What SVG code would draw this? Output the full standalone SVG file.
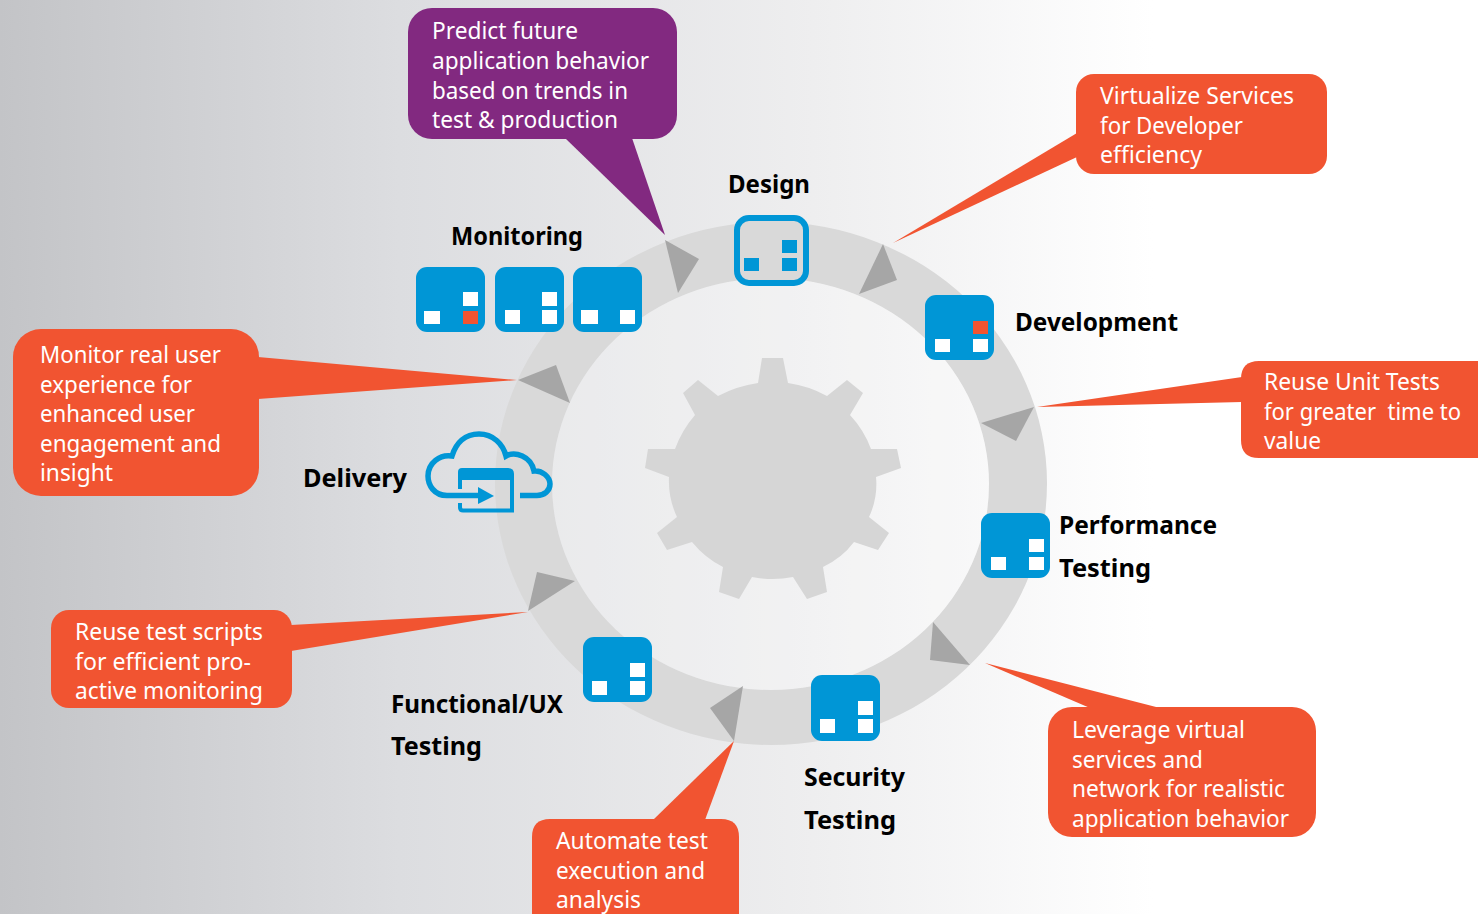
<svg xmlns="http://www.w3.org/2000/svg" width="1478" height="914" viewBox="0 0 1478 914">
<defs>
<linearGradient id="bg" x1="0" y1="0" x2="1" y2="0">
<stop offset="0" stop-color="#c3c4c7"/><stop offset="0.27" stop-color="#dcdde0"/><stop offset="0.55" stop-color="#eeeeef"/><stop offset="0.78" stop-color="#ffffff"/><stop offset="1" stop-color="#ffffff"/>
</linearGradient>
</defs>
<style>
.o{fill:#f15431}.p{fill:#822980}
.b{fill:#0096d6}.w{fill:#fff}.r{fill:#f15431}
.a{fill:#a6a6a6}
text{font-family:"Noto Sans","Liberation Sans",sans-serif}
.t{fill:#fff;font-size:23px}
.l{fill:#000;font-size:25px;font-weight:700}
</style>
<rect width="1478" height="914" fill="url(#bg)"/>
<g id="ring">
<path fill="#d9d9d9" fill-rule="evenodd" d="M495 483.500a276 261.500 0 1 0 552 0a276 261.500 0 1 0-552 0ZM552 484a218.500 206 0 1 0 437 0a218.500 206 0 1 0-437 0Z"/>
<ellipse cx="770.500" cy="484" rx="218.500" ry="206" fill="#fff" fill-opacity="0.25"/>
</g>
<g id="gear">
<path fill="#d6d6d6" d="M758 383L762 358H783L788 383Q809 386 827 396L847 380L863 393L850 415Q864 430 871 449H897L901 468L876 477Q878 498 869 517L889 533L878 550L854 542Q842 558 823 567L827 592L807 599L793 577Q773 581 752 577L739 599L719 592L723 567Q705 558 692 542L667 550L657 533L677 517Q668 498 669 477L645 468L648 449H675Q682 430 695 415L683 393L698 380L718 396Q737 386 758 383Z"/>
</g>
<g id="connectors">
<path class="a" d="M665 240L699 259L678 293Z"/>
<path class="a" d="M883 244L897 280L859 294Z"/>
<path class="a" d="M1034 407L1016 441L981 423Z"/>
<path class="a" d="M933 622L970 665L930 660Z"/>
<path class="a" d="M743 686L734 741L710 708Z"/>
<path class="a" d="M575 581L528 611L537 572Z"/>
<path class="a" d="M518 380L556 365L570 403Z"/>
</g>
<g id="callout-predict">
<path class="p" d="M565 138L665 235L632 138Z"/><rect class="p" x="408" y="8" width="269" height="131" rx="24"/>
<text class="t" x="432" y="39" textLength="146" lengthAdjust="spacingAndGlyphs">Predict future</text>
<text class="t" x="432" y="69" textLength="217" lengthAdjust="spacingAndGlyphs">application behavior</text>
<text class="t" x="432" y="99" textLength="196" lengthAdjust="spacingAndGlyphs">based on trends in</text>
<text class="t" x="432" y="128" textLength="186" lengthAdjust="spacingAndGlyphs">test &amp; production</text>
</g>
<g id="callout-virtualize">
<path class="o" d="M1077 133L893 243L1077 157Z"/><rect class="o" x="1076" y="74" width="251" height="100" rx="18"/>
<text class="t" x="1100" y="104" textLength="194" lengthAdjust="spacingAndGlyphs">Virtualize Services</text>
<text class="t" x="1100" y="134" textLength="143" lengthAdjust="spacingAndGlyphs">for Developer</text>
<text class="t" x="1100" y="163" textLength="102" lengthAdjust="spacingAndGlyphs">efficiency</text>
</g>
<g id="callout-unit">
<path class="o" d="M1242 377L1037 407L1242 402Z"/><path class="o" d="M1478 361H1259Q1241 361 1241 379V440Q1241 458 1259 458H1478Z"/>
<text class="t" x="1264" y="390" textLength="176" lengthAdjust="spacingAndGlyphs">Reuse Unit Tests</text>
<text class="t" x="1264" y="420" textLength="197" lengthAdjust="spacingAndGlyphs" xml:space="preserve">for greater  time to</text>
<text class="t" x="1264" y="449" textLength="57" lengthAdjust="spacingAndGlyphs">value</text>
</g>
<g id="callout-leverage">
<path class="o" d="M1160 708L985 663L1090 708Z"/><rect class="o" x="1048" y="707" width="268" height="130" rx="24"/>
<text class="t" x="1072" y="738" textLength="173" lengthAdjust="spacingAndGlyphs">Leverage virtual</text>
<text class="t" x="1072" y="768" textLength="131" lengthAdjust="spacingAndGlyphs">services and</text>
<text class="t" x="1072" y="797" textLength="213" lengthAdjust="spacingAndGlyphs">network for realistic</text>
<text class="t" x="1072" y="827" textLength="217" lengthAdjust="spacingAndGlyphs">application behavior</text>
</g>
<g id="callout-automate">
<path class="o" d="M653 820L734 741L705 820Z"/><path class="o" d="M532 914V837Q532 819 550 819H721Q739 819 739 837V914Z"/>
<text class="t" x="556" y="849" textLength="152" lengthAdjust="spacingAndGlyphs">Automate test</text>
<text class="t" x="556" y="879" textLength="149" lengthAdjust="spacingAndGlyphs">execution and</text>
<text class="t" x="556" y="908" textLength="85" lengthAdjust="spacingAndGlyphs">analysis</text>
</g>
<g id="callout-scripts">
<path class="o" d="M291 625L528 612L291 651Z"/><rect class="o" x="51" y="610" width="241" height="98" rx="18"/>
<text class="t" x="75" y="640" textLength="188" lengthAdjust="spacingAndGlyphs">Reuse test scripts</text>
<text class="t" x="75" y="670" textLength="176" lengthAdjust="spacingAndGlyphs">for efficient pro-</text>
<text class="t" x="75" y="699" textLength="188" lengthAdjust="spacingAndGlyphs">active monitoring</text>
</g>
<g id="callout-monitor">
<path class="o" d="M258 357L517 380L258 399Z"/><rect class="o" x="13" y="329" width="246" height="167" rx="28"/>
<text class="t" x="40" y="363" textLength="181" lengthAdjust="spacingAndGlyphs">Monitor real user</text>
<text class="t" x="40" y="393" textLength="152" lengthAdjust="spacingAndGlyphs">experience for</text>
<text class="t" x="40" y="422" textLength="155" lengthAdjust="spacingAndGlyphs">enhanced user</text>
<text class="t" x="40" y="452" textLength="181" lengthAdjust="spacingAndGlyphs">engagement and</text>
<text class="t" x="40" y="481" textLength="73" lengthAdjust="spacingAndGlyphs">insight</text>
</g>
<g id="node-design">
<rect x="737" y="218" width="69" height="65" rx="12" fill="#d9d9d9" stroke="#0096d6" stroke-width="6"/>
<rect class="b" x="782" y="240" width="15" height="13"/><rect class="b" x="782" y="258" width="15" height="13"/><rect class="b" x="744" y="258" width="15" height="13"/>
<text class="l" x="728" y="193" textLength="82" lengthAdjust="spacingAndGlyphs">Design</text>
</g>
<g id="node-development">
<rect class="b" x="925" y="295" width="69" height="65" rx="11"/>
<rect class="r" x="973" y="321" width="15" height="13"/><rect class="w" x="973" y="339" width="15" height="13"/><rect class="w" x="935" y="339" width="15" height="13"/>
<text class="l" x="1015" y="331" textLength="163" lengthAdjust="spacingAndGlyphs">Development</text>
</g>
<g id="node-performance">
<rect class="b" x="981" y="513" width="69" height="65" rx="11"/>
<rect class="w" x="1029" y="539" width="15" height="13"/><rect class="w" x="1029" y="557" width="15" height="13"/><rect class="w" x="991" y="557" width="15" height="13"/>
<text class="l" x="1059" y="534" textLength="158" lengthAdjust="spacingAndGlyphs">Performance</text>
<text class="l" x="1059" y="577" textLength="92" lengthAdjust="spacingAndGlyphs">Testing</text>
</g>
<g id="node-security">
<rect class="b" x="811" y="675" width="69" height="66" rx="11"/>
<rect class="w" x="858" y="701" width="15" height="14"/><rect class="w" x="858" y="719" width="15" height="14"/><rect class="w" x="820" y="719" width="15" height="14"/>
<text class="l" x="804" y="786" textLength="101" lengthAdjust="spacingAndGlyphs">Security</text>
<text class="l" x="804" y="829" textLength="92" lengthAdjust="spacingAndGlyphs">Testing</text>
</g>
<g id="node-functional">
<rect class="b" x="583" y="637" width="69" height="65" rx="11"/>
<rect class="w" x="630" y="663" width="15" height="14"/><rect class="w" x="630" y="681" width="15" height="14"/><rect class="w" x="592" y="681" width="15" height="14"/>
<text class="l" x="391" y="713" textLength="172" lengthAdjust="spacingAndGlyphs">Functional/UX</text>
<text class="l" x="391" y="755" textLength="91" lengthAdjust="spacingAndGlyphs">Testing</text>
</g>
<g id="node-delivery">
<path fill="none" stroke="#0096d6" stroke-width="5.500" d="M480 495.500H447C434 495.500 428 485 428 476C428 463 440 454 452 456C456 443 465 434 479 434C493 434 503 444 506 456C515 451 531 456 534 471C542 470 550 477 550 484C550 491 544 495.500 537 495.500H520"/>
<path fill="none" stroke="#0096d6" stroke-width="4" d="M460 480V489M512 476V510.500H463Q460 510.500 460 507V503"/>
<path class="b" d="M458 472Q458 468 462 468H508Q514 468 514 474V480H458Z"/>
<path class="b" d="M478 487L494 496L478 504Z"/>
<text class="l" x="303" y="487" textLength="104" lengthAdjust="spacingAndGlyphs">Delivery</text>
</g>
<g id="node-monitoring">
<rect class="b" x="416" y="267" width="69" height="65" rx="11"/>
<rect class="w" x="463" y="292" width="15" height="14"/><rect class="r" x="463" y="311" width="15" height="13"/><rect class="w" x="424" y="311" width="16" height="13"/>
<rect class="b" x="495" y="267" width="69" height="65" rx="11"/>
<rect class="w" x="542" y="292" width="15" height="14"/><rect class="w" x="542" y="310" width="15" height="14"/><rect class="w" x="505" y="310" width="15" height="14"/>
<rect class="b" x="573" y="267" width="69" height="65" rx="11"/>
<rect class="w" x="581" y="310" width="17" height="14"/><rect class="w" x="620" y="310" width="15" height="14"/>
<text class="l" x="451" y="245" textLength="132" lengthAdjust="spacingAndGlyphs">Monitoring</text>
</g>
</svg>
